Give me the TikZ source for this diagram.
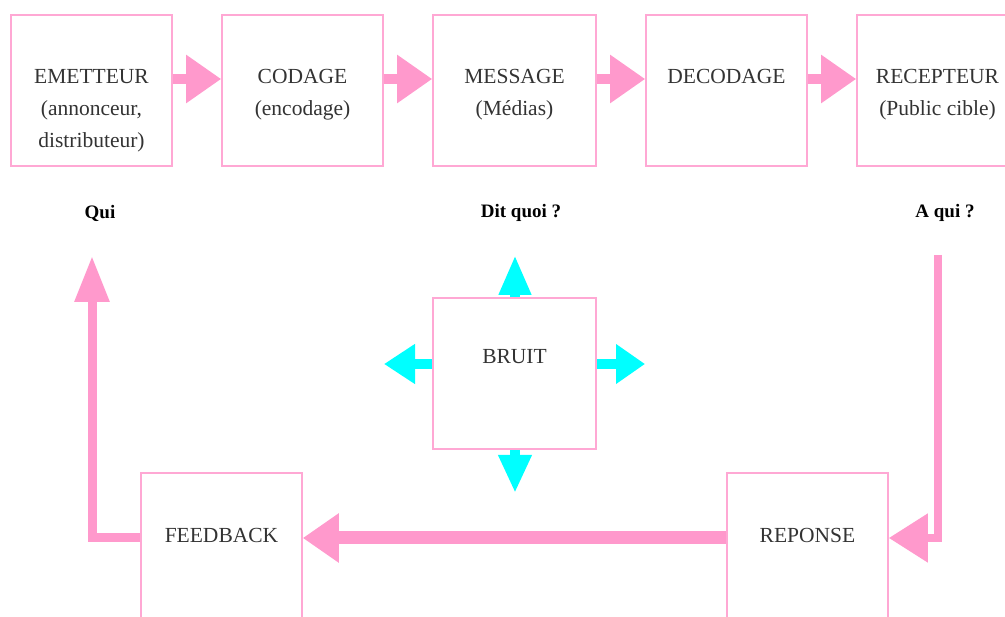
\documentclass[tikz,border=0pt]{standalone}
\usepackage{fontspec}
\setmainfont{Liberation Serif}
\usetikzlibrary{arrows.meta,calc}
\definecolor{pk}{HTML}{FF99CC}
\definecolor{pkbox}{HTML}{FFA8D4}
\definecolor{cy}{HTML}{00FFFF}
\definecolor{txt}{HTML}{333333}
\tikzset{
  box/.style={draw=pkbox, line width=1.6pt, minimum width=161pt, minimum height=151pt, inner sep=0pt},
  boxtext/.style={anchor=base, align=center, text=txt, font=\fontsize{21.5}{32}\selectfont, inner sep=0pt},
  qlabel/.style={font=\fontsize{19}{22}\selectfont\bfseries, inner sep=0pt},
  toparrow/.style={draw=pk, line width=10pt, -{Triangle[length=35pt,width=46pt]}},
  cyarrow/.style={draw=cy, line width=10pt}
}
\begin{document}
\begin{tikzpicture}[x=1pt,y=-1pt]
\useasboundingbox (0,0) rectangle (1005,617);
\clip (0,0) rectangle (1005,617);
% top boxes
\node[box] (em)  at (91.5,90.5) {};
\node[box] (cod) at (302.5,90.5) {};
\node[box, minimum width=163pt] (mes) at (514.5,90.5) {};
\node[box] (dec) at (726.5,90.5) {};
\node[box] (rec) at (937.5,90.5) {};
% anchor=base is the baseline of the last line
\node[boxtext] (emt)  at (91.5,148) {EMETTEUR\\(annonceur,\\distributeur)};
\node[boxtext] (codt) at (302.5,116) {CODAGE\\(encodage)};
\node[boxtext] (mest) at (514.5,116) {MESSAGE\\(Médias)};
\node[boxtext] (dect) at (726.5,84) {DECODAGE};
\node[boxtext] (rect) at (937.5,116) {RECEPTEUR\\(Public cible)};
% top arrows
\draw[toparrow] ($(em.east)+(0,-11.5)$) -- ($(cod.west)+(0,-11.5)$);
\draw[toparrow] ($(cod.east)+(0,-11.5)$) -- ($(mes.west)+(0,-11.5)$);
\draw[toparrow] ($(mes.east)+(0,-11.5)$) -- ($(dec.west)+(0,-11.5)$);
\draw[toparrow] ($(dec.east)+(0,-11.5)$) -- ($(rec.west)+(0,-11.5)$);
% question labels
\node[qlabel] (qui) at (100,213) {Qui};
\node[qlabel] (dit) at (521,213) {Dit quoi ?};
\node[qlabel] (aqui) at (945,213) {A qui ?};
% bruit
\node[box, minimum width=163pt] (bruit) at (514.5,373.5) {};
\node[boxtext] (bruitt) at (514.5,364) {BRUIT};
\coordinate (bu) at (515,255);
\coordinate (bd) at (515,493);
\coordinate (bl) at (384,364);
\coordinate (br) at (645,364);
\draw[cyarrow, -{Triangle[length=40pt,width=30pt]}] (bruit.north -| bu) -- (bu);
\draw[cyarrow, -{Triangle[length=38pt,width=31pt]}] (bruit.south -| bd) -- (bd);
\draw[cyarrow, -{Triangle[length=31pt,width=38pt]}] (bruit.west |- bl) -- (bl);
\draw[cyarrow, -{Triangle[length=29pt,width=38pt]}] (bruit.east |- br) -- (br);
% bottom boxes
\node[box] (fb) at (221.5,548.5) {};
\node[box] (rep) at (807.5,548.5) {};
\node[boxtext] (fbt) at (221.5,543) {FEEDBACK};
\node[boxtext] (rept) at (807.5,543) {REPONSE};
% loop
\coordinate (rs) at (938,255);
\coordinate (qtip) at (92,256);
\draw[draw=pk, line width=8pt, -{Triangle[length=39pt,width=47pt]}] (rs) -- (938,538) -- (rep.east |- 0,538);
\draw[draw=pk, line width=13pt, -{Triangle[length=36pt,width=47pt]}] (rep.west |- 0,538) -- (fb.east |- 0,538);
\draw[draw=pk, line width=9pt, -{Triangle[length=46pt,width=33pt]}] (fb.west |- 0,538) -- (92,538) -- (qtip);
\end{tikzpicture}
\end{document}
